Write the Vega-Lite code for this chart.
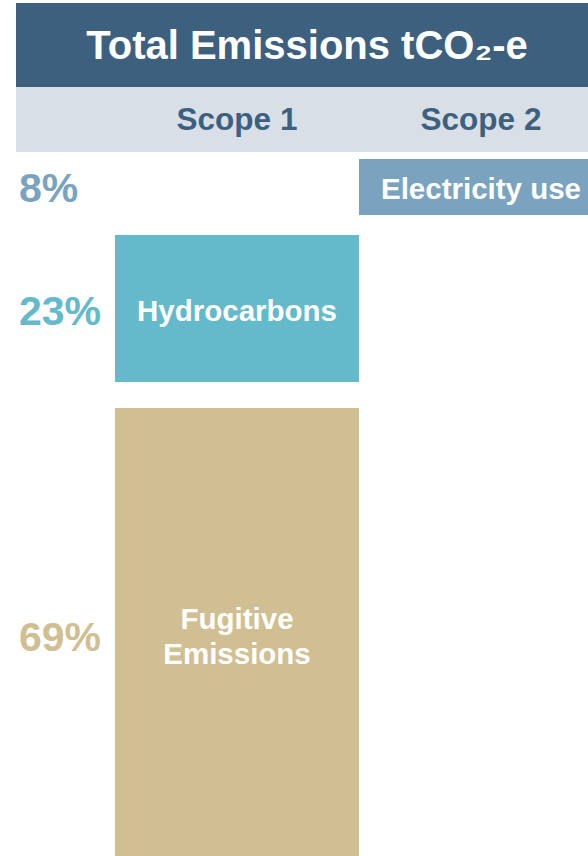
{
  "$schema": "https://vega.github.io/schema/vega-lite/v6.json",
  "padding": {"left": 16, "top": 3, "right": 0, "bottom": 0},
  "background": "white",
  "config": {
    "view": {"stroke": null},
    "font": "Liberation Sans",
    "text": {"font": "Liberation Sans", "fontWeight": "bold"}
  },
  "datasets": {
    "emissions": [
      {"category": "Electricity use", "label": ["Electricity use"], "scope": "Scope 2", "pct": 0.08},
      {"category": "Hydrocarbons", "label": ["Hydrocarbons"], "scope": "Scope 1", "pct": 0.23},
      {"category": "Fugitive Emissions", "label": ["Fugitive", "Emissions"], "scope": "Scope 1", "pct": 0.69}
    ],
    "heading": [
      {"title": "Total Emissions tCO₂-e"}
    ]
  },
  "spacing": 26,
  "vconcat": [
    {
      "spacing": 20,
      "vconcat": [
        {
          "spacing": 7,
          "vconcat": [
            {
              "spacing": 0,
              "vconcat": [
                {
                  "width": 572,
                  "height": 84,
                  "view": {"fill": "#3d607e", "stroke": null},
                  "data": {"name": "heading"},
                  "mark": {"type": "text", "fontSize": 40, "fontWeight": "bold", "color": "white", "align": "center", "baseline": "middle", "dx": 5, "dy": 2},
                  "encoding": {"text": {"field": "title"}}
                },
                {
                  "width": 572,
                  "height": 65,
                  "view": {"fill": "#d8dfe6", "stroke": null},
                  "data": {"name": "emissions"},
                  "transform": [{"aggregate": [], "groupby": ["scope"]}],
                  "mark": {"type": "text", "fontSize": 31.5, "fontWeight": "bold", "color": "#3d607e", "baseline": "middle", "dy": 1, "clip": true},
                  "encoding": {
                    "x": {"field": "scope", "type": "nominal", "scale": {"domain": ["Scope 1", "Scope 2"], "range": [99, 587], "paddingInner": 0, "paddingOuter": 0}, "axis": null},
                    "text": {"field": "scope"}
                  }
                }
              ]
            },
            {
              "width": 572,
              "height": 56,
              "data": {"name": "emissions"},
              "transform": [{"filter": "datum.category === 'Electricity use'"}],
              "layer": [
                {
                  "mark": {"type": "rect", "clip": true},
                  "encoding": {
                    "x": {"field": "scope", "type": "nominal", "scale": {"domain": ["Scope 1", "Scope 2"], "range": [99, 587], "paddingInner": 0, "paddingOuter": 0}, "axis": null},
                    "color": {"field": "category", "type": "nominal", "scale": {"domain": ["Electricity use", "Hydrocarbons", "Fugitive Emissions"], "range": ["#7aa3c0", "#64b9ca", "#cfbf93"]}, "legend": null}
                  }
                },
                {
                  "mark": {"type": "text", "fontSize": 29.5, "fontWeight": "bold", "color": "white", "baseline": "middle", "dy": 3, "clip": true},
                  "encoding": {
                    "x": {"field": "scope", "type": "nominal", "scale": {"domain": ["Scope 1", "Scope 2"], "range": [99, 587], "paddingInner": 0, "paddingOuter": 0}, "axis": null},
                    "text": {"field": "label"}
                  }
                },
                {
                  "mark": {"type": "text", "fontSize": 41, "fontWeight": "bold", "align": "left", "baseline": "middle", "dy": 3},
                  "encoding": {
                    "x": {"value": 3},
                    "text": {"field": "pct", "type": "quantitative", "format": ".0%"},
                    "color": {"field": "category", "type": "nominal", "scale": {"domain": ["Electricity use", "Hydrocarbons", "Fugitive Emissions"], "range": ["#7aa3c0", "#64b9ca", "#cfbf93"]}, "legend": null}
                  }
                }
              ]
            }
          ]
        },
        {
          "width": 572,
          "height": 147,
          "data": {"name": "emissions"},
          "transform": [{"filter": "datum.category === 'Hydrocarbons'"}],
          "layer": [
            {
              "mark": {"type": "rect", "clip": true},
              "encoding": {
                "x": {"field": "scope", "type": "nominal", "scale": {"domain": ["Scope 1", "Scope 2"], "range": [99, 587], "paddingInner": 0, "paddingOuter": 0}, "axis": null},
                "color": {"field": "category", "type": "nominal", "scale": {"domain": ["Electricity use", "Hydrocarbons", "Fugitive Emissions"], "range": ["#7aa3c0", "#64b9ca", "#cfbf93"]}, "legend": null}
              }
            },
            {
              "mark": {"type": "text", "fontSize": 29.5, "fontWeight": "bold", "color": "white", "baseline": "middle", "dy": 3, "clip": true},
              "encoding": {
                "x": {"field": "scope", "type": "nominal", "scale": {"domain": ["Scope 1", "Scope 2"], "range": [99, 587], "paddingInner": 0, "paddingOuter": 0}, "axis": null},
                "text": {"field": "label"}
              }
            },
            {
              "mark": {"type": "text", "fontSize": 41, "fontWeight": "bold", "align": "left", "baseline": "middle", "dy": 4},
              "encoding": {
                "x": {"value": 3},
                "text": {"field": "pct", "type": "quantitative", "format": ".0%"},
                "color": {"field": "category", "type": "nominal", "scale": {"domain": ["Electricity use", "Hydrocarbons", "Fugitive Emissions"], "range": ["#7aa3c0", "#64b9ca", "#cfbf93"]}, "legend": null}
              }
            }
          ]
        }
      ]
    },
    {
      "width": 572,
      "height": 448,
      "data": {"name": "emissions"},
      "transform": [{"filter": "datum.category === 'Fugitive Emissions'"}],
      "layer": [
        {
          "mark": {"type": "rect", "clip": true},
          "encoding": {
            "x": {"field": "scope", "type": "nominal", "scale": {"domain": ["Scope 1", "Scope 2"], "range": [99, 587], "paddingInner": 0, "paddingOuter": 0}, "axis": null},
            "color": {"field": "category", "type": "nominal", "scale": {"domain": ["Electricity use", "Hydrocarbons", "Fugitive Emissions"], "range": ["#7aa3c0", "#64b9ca", "#cfbf93"]}, "legend": null}
          }
        },
        {
          "mark": {"type": "text", "fontSize": 29.5, "fontWeight": "bold", "color": "white", "baseline": "middle", "lineHeight": 35, "dy": -12, "clip": true},
          "encoding": {
            "x": {"field": "scope", "type": "nominal", "scale": {"domain": ["Scope 1", "Scope 2"], "range": [99, 587], "paddingInner": 0, "paddingOuter": 0}, "axis": null},
            "text": {"field": "label"}
          }
        },
        {
          "mark": {"type": "text", "fontSize": 41, "fontWeight": "bold", "align": "left", "baseline": "middle", "dy": 7},
          "encoding": {
            "x": {"value": 3},
            "text": {"field": "pct", "type": "quantitative", "format": ".0%"},
            "color": {"field": "category", "type": "nominal", "scale": {"domain": ["Electricity use", "Hydrocarbons", "Fugitive Emissions"], "range": ["#7aa3c0", "#64b9ca", "#cfbf93"]}, "legend": null}
          }
        }
      ]
    }
  ]
}
